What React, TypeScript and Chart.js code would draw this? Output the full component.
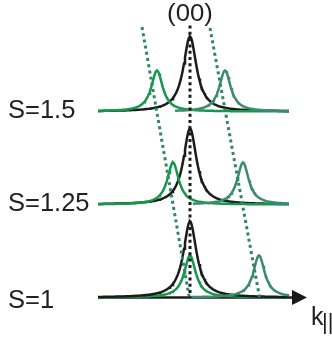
import React, { useEffect, useRef } from "react";
import { Chart, registerables } from "chart.js";

Chart.register(...registerables);

// Step-spacing labels, bottom to top
const spacingLabels = ["S=1", "S=1.25", "S=1.5"];
// vertical offsets of each profile (intensity units)
const profileOffsets = [0, 9.3, 18.6];
// peak parameters (k in arbitrary units, centre (00) at 0)
const specularPos = [0, 0, 0];
const specularHeight = [7.6, 7.6, 7.5];
const leftSatPos = [0, -1.7, -3.3];
const rightSatPos = [6.9, 5.3, 3.5];
const satHeight = [4.2, 4.2, 4.1];
const specularHWHM = [0.8, 0.8, 0.8];
const satHWHM = [0.7, 0.7, 0.7];
// k range of the profiles
const kStart = -9.2;
const kEnd = 9.9;
const axisEnd = 10.3;
// guide lines (dotted)
const centerGuideK = [0, 0];
const centerGuideY = [27.2, -0.05];
const leftGuideK = [-4.8, -0.1];
const leftGuideY = [27.05, 0.15];
const rightGuideK = [2.0, 6.95];
const rightGuideY = [26.95, 0.05];
const peakLabel = "(00)";

const BLACK = "#1b1b1b";
const GREEN = "#14994a";
const TEAL = "#3d8a70";
const GUIDE = "#2f8569";

function lorentz(pos: number, h: number, g: number, base: number, from: number, to: number) {
  const pts: { x: number; y: number }[] = [];
  const n = Math.round((to - from) / 0.1);
  for (let i = 0; i <= n; i++) {
    const x = from + ((to - from) * i) / n;
    const d = (x - pos) / g;
    pts.push({ x, y: base + h / (1 + d * d) });
  }
  return pts;
}

const labelPlugin = {
  id: "labels",
  afterDraw(chart: any) {
    const ctx = chart.ctx;
    const xs = chart.scales.x;
    const ys = chart.scales.y;
    ctx.save();
    ctx.fillStyle = "#222";
    ctx.font = "25.5px 'Liberation Sans', Arial, sans-serif";
    ctx.textBaseline = "middle";
    ctx.textAlign = "left";
    spacingLabels.forEach((l, i) => {
      ctx.fillText(l, 8, ys.getPixelForValue(profileOffsets[i]) + (i === 0 ? 3 : -1));
    });
    // (00) label, slightly wide
    ctx.save();
    ctx.translate(xs.getPixelForValue(0), 21);
    ctx.scale(1.12, 1);
    ctx.textAlign = "center";
    ctx.textBaseline = "alphabetic";
    ctx.font = "23px 'Liberation Sans', Arial, sans-serif";
    ctx.fillText(peakLabel, 0, 0);
    ctx.restore();
    // arrow head
    const ay = ys.getPixelForValue(0);
    const ax = xs.getPixelForValue(axisEnd);
    ctx.fillStyle = BLACK;
    ctx.beginPath();
    ctx.moveTo(ax - 1, ay - 7.5);
    ctx.lineTo(ax + 14, ay);
    ctx.lineTo(ax - 1, ay + 7.5);
    ctx.closePath();
    ctx.fill();
    // k|| label
    ctx.fillStyle = "#222";
    ctx.textAlign = "left";
    ctx.textBaseline = "alphabetic";
    ctx.font = "25px 'Liberation Sans', Arial, sans-serif";
    ctx.fillText("k", 311, 325);
    ctx.font = "22px 'Liberation Sans', Arial, sans-serif";
    ctx.fillText("||", 322, 329);
    ctx.restore();
  },
};

export default function App() {
  const ref = useRef<HTMLCanvasElement>(null);
  useEffect(() => {
    document.body.style.margin = "0";
    const datasets: any[] = [];
    const line = (data: any, color: string, order: number, extra: any = {}) => ({
      data,
      borderColor: color,
      borderWidth: 2.5,
      pointRadius: 0,
      fill: false,
      tension: 0,
      order,
      ...extra,
    });
    // axis line
    datasets.push(line([{ x: kStart, y: 0 }, { x: axisEnd, y: 0 }], BLACK, 100));
    for (let i = 0; i < 3; i++) {
      const b = profileOffsets[i];
      const spec = lorentz(specularPos[i], specularHeight[i], specularHWHM[i], b, kStart, kEnd);
      const left = lorentz(leftSatPos[i], satHeight[i], satHWHM[i], b, kStart, kEnd);
      const right = lorentz(rightSatPos[i], satHeight[i], satHWHM[i], b, i === 0 ? 0 : rightSatPos[i] - 5, kEnd);
      if (i === 0) {
        datasets.push(line(left, GREEN, 60));
        datasets.push(line(spec, BLACK, 50));
        datasets.push(line(right, TEAL, 40));
      } else {
        datasets.push(line(spec, BLACK, 60));
        datasets.push(line(left, GREEN, 50));
        datasets.push(line(right, TEAL, 40));
      }
    }
    const guide = (ks: number[], yv: number[], color: string) =>
      line(ks.map((k, j) => ({ x: k, y: yv[j] })), color, 1, { borderDash: [3, 3.3], borderWidth: 3 });
    datasets.push(guide(centerGuideK, centerGuideY, BLACK));
    datasets.push(guide(leftGuideK, leftGuideY, GUIDE));
    datasets.push(guide(rightGuideK, rightGuideY, GUIDE));

    const chart = new Chart(ref.current!, {
      type: "line",
      data: { datasets },
      options: {
        animation: false,
        responsive: false,
        parsing: false as any,
        layout: { padding: 0 },
        plugins: { legend: { display: false }, tooltip: { enabled: false } },
        scales: {
          x: { type: "linear", min: -19, max: 14.2, display: false },
          y: { type: "linear", min: -4.15, max: 29.75, display: false },
        },
      },
      plugins: [labelPlugin],
    });
    return () => chart.destroy();
  }, []);
  return (
    <div style={{ position: "absolute", left: 0, top: 0, width: 332, height: 339, background: "#fff" }}>
      <canvas ref={ref} width={332} height={339} style={{ display: "block" }} />
    </div>
  );
}
